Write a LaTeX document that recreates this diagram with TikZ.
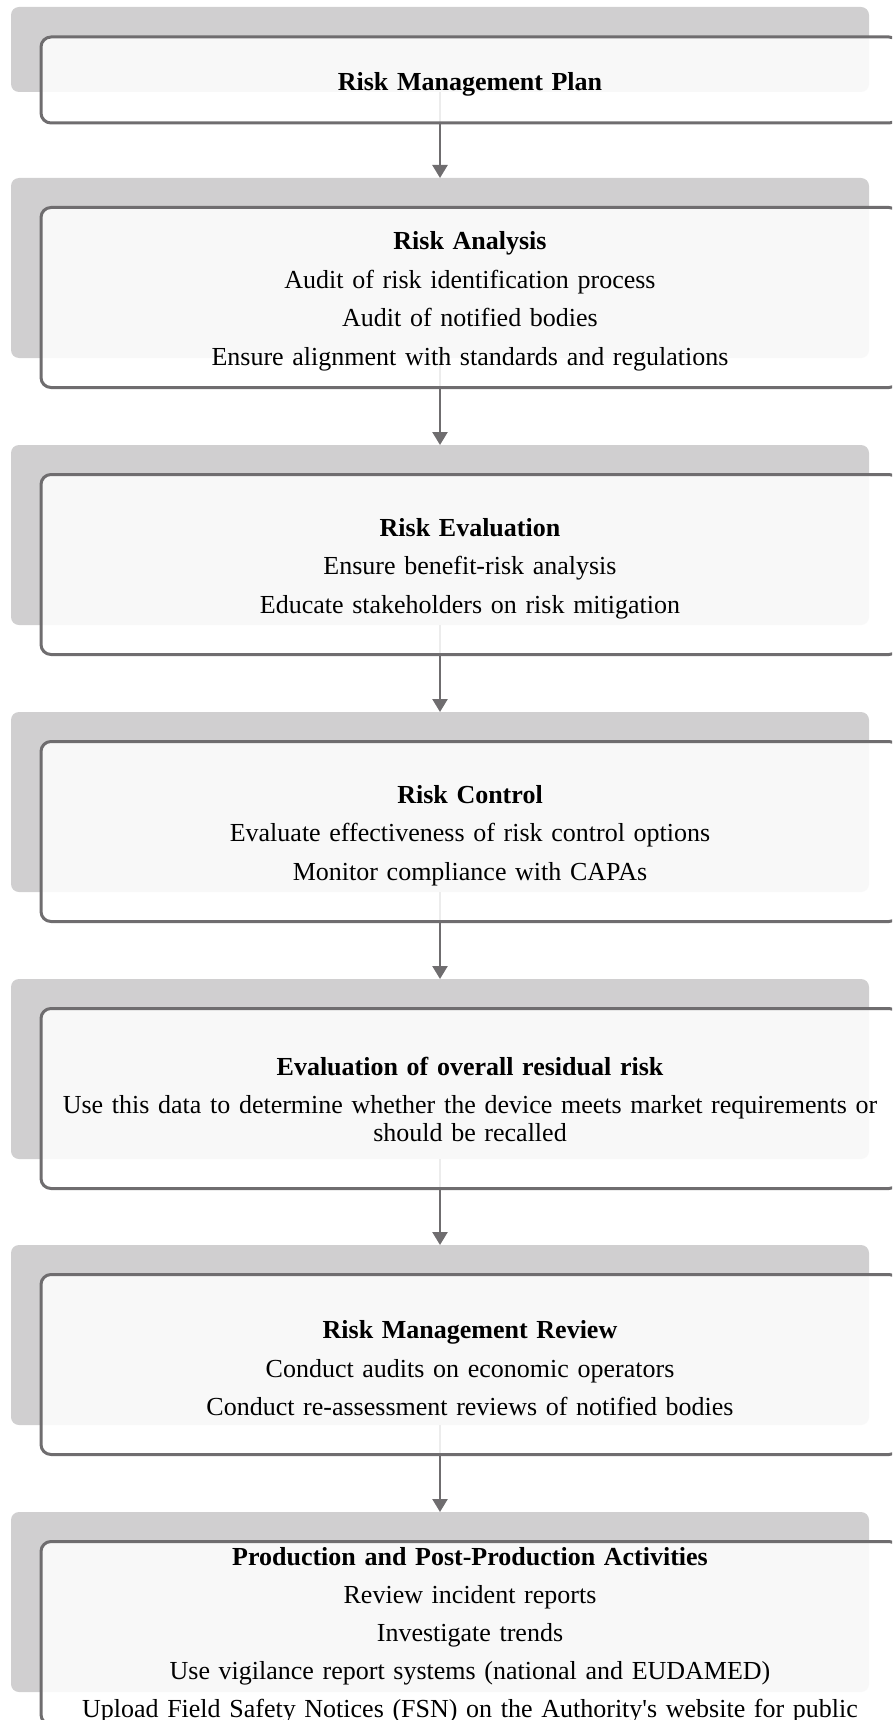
\documentclass[tikz,border=0pt]{standalone}
\usepackage{fontspec}
\setmainfont{Liberation Serif}[Ligatures=TeXOff]
\usetikzlibrary{arrows.meta}
\definecolor{backgray}{RGB}{208,207,208}
\definecolor{edgegray}{RGB}{111,109,111}
% bold stage heading with a tall strut so the block sits a little lower
\newcommand\stagetitle[2][26pt]{\textbf{\rule{0pt}{#1}#2}}
\begin{document}
\begin{tikzpicture}[x=1pt,y=-1pt,
  grayback/.style={draw=none, fill=backgray, rounded corners=8pt,
    minimum width=858pt, inner sep=0pt, outer sep=0pt},
  cardbox/.style={draw=edgegray, line width=3pt, fill=white, fill opacity=0.87,
    text opacity=1, rounded corners=10pt, minimum width=858pt, text width=850pt,
    inner xsep=4pt, inner ysep=0pt, outer sep=0pt, align=center,
    font=\fontsize{26pt}{27.5pt}\selectfont},
  flowarrow/.style={draw=edgegray, line width=2.5pt,
    -{Triangle[width=15pt,length=13pt]}}
]
\useasboundingbox (0,0) rectangle (892,1720);
\clip (0,0) rectangle (892,1720);

% shaded backing panels
\node[grayback, minimum height=85pt]  (g1) at (440,49.5) {};
\node[grayback, minimum height=180pt] (g2) at (440,268) {};
\node[grayback, minimum height=180pt] (g3) at (440,535) {};
\node[grayback, minimum height=180pt] (g4) at (440,802) {};
\node[grayback, minimum height=180pt] (g5) at (440,1069) {};
\node[grayback, minimum height=180pt] (g6) at (440,1335) {};
\node[grayback, minimum height=180pt] (g7) at (440,1602) {};

% flow between stages
\draw[flowarrow] (g1.south) -- (g2.north);
\draw[flowarrow] (g2.south) -- (g3.north);
\draw[flowarrow] (g3.south) -- (g4.north);
\draw[flowarrow] (g4.south) -- (g5.north);
\draw[flowarrow] (g5.south) -- (g6.north);
\draw[flowarrow] (g6.south) -- (g7.north);

% stage cards
\node[cardbox, minimum height=86pt] (c1) at (470,80)
  {\stagetitle{Risk Management Plan}};
\node[cardbox, minimum height=180pt] (c2) at (470,297.5)
  {\stagetitle{Risk Analysis}\\[11pt]
   Audit of risk identification process\\[11pt]
   Audit of notified bodies\\[11pt]
   Ensure alignment with standards and regulations};
\node[cardbox, minimum height=180pt] (c3) at (470,564.5)
  {\stagetitle{Risk Evaluation}\\[11pt]
   Ensure benefit-risk analysis\\[11pt]
   Educate stakeholders on risk mitigation};
\node[cardbox, minimum height=180pt] (c4) at (470,831.5)
  {\stagetitle{Risk Control}\\[11pt]
   Evaluate effectiveness of risk control options\\[11pt]
   Monitor compliance with CAPAs};
\node[cardbox, minimum height=180pt] (c5) at (470,1098.5)
  {\stagetitle[20pt]{Evaluation of overall residual risk}\\[11pt]
   Use this data to determine whether the device meets market requirements or\\
   should be recalled};
\node[cardbox, minimum height=180pt] (c6) at (470,1364.5)
  {\stagetitle{Risk Management Review}\\[11pt]
   Conduct audits on economic operators\\[11pt]
   Conduct re-assessment reviews of notified bodies};
\node[cardbox, minimum height=183pt] (c7) at (470,1633)
  {\stagetitle[23.5pt]{Production and Post-Production Activities}\\[10.5pt]
   Review incident reports\\[10.5pt]
   Investigate trends\\[10.5pt]
   Use vigilance report systems (national and EUDAMED)\\[10.5pt]
   Upload Field Safety Notices (FSN) on the Authority's website for public};
\end{tikzpicture}
\end{document}
